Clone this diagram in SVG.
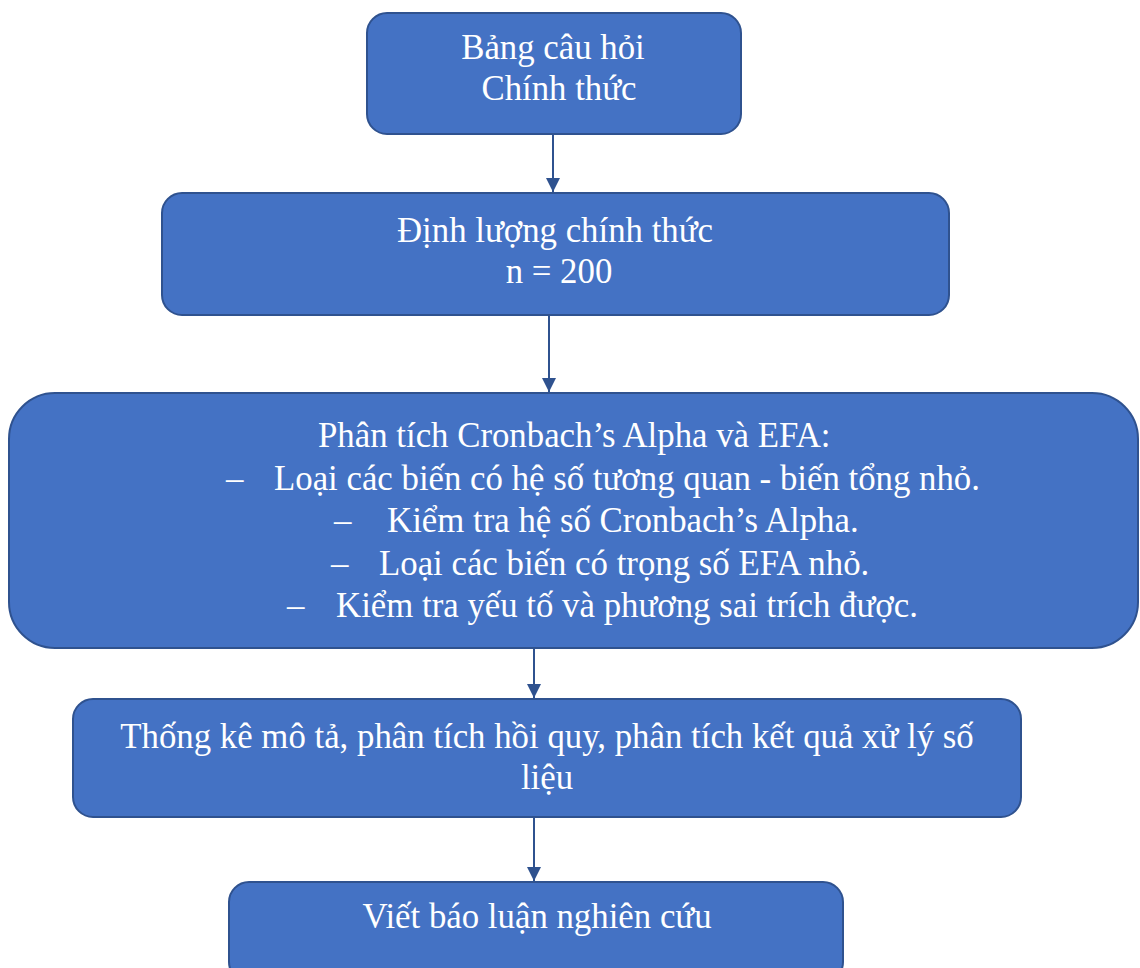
<svg xmlns="http://www.w3.org/2000/svg" width="1140" height="968" viewBox="0 0 1140 968">
<style>
.box{fill:#4472C4;stroke:#2F528F;stroke-width:2}
.t{font-family:"Liberation Serif","Times New Roman",serif;font-size:34.8px;fill:#fff}
.c{text-anchor:middle}
.conn{stroke:#2F528F;stroke-width:2;fill:none}
</style>
<defs>
<marker id="ah" markerWidth="14" markerHeight="14" refX="14" refY="7" orient="auto" markerUnits="userSpaceOnUse" viewBox="0 0 14 14">
<path d="M0,0 L14,7 L0,14 Z" fill="#2F528F"/>
</marker>
</defs>
<g id="connectors">
<line class="conn" x1="553" y1="134" x2="553" y2="192" marker-end="url(#ah)"/>
<line class="conn" x1="549" y1="315" x2="549" y2="392" marker-end="url(#ah)"/>
<line class="conn" x1="534" y1="648" x2="534" y2="698" marker-end="url(#ah)"/>
<line class="conn" x1="534" y1="817" x2="534" y2="881" marker-end="url(#ah)"/>
</g>
<g id="n1">
<rect class="box" x="367" y="13" width="374" height="121" rx="20"/>
<text class="t c" x="553" y="59">Bảng câu hỏi</text>
<text class="t c" x="559" y="100">Chính thức</text>
</g>
<g id="n2">
<rect class="box" x="162" y="193" width="787" height="122" rx="20"/>
<text class="t c" x="555" y="242">Định lượng chính thức</text>
<text class="t c" x="559" y="283">n = 200</text>
</g>
<g id="n3">
<rect class="box" x="9" y="393" width="1129" height="255" rx="46"/>
<text class="t" x="318" y="447">Phân tích Cronbach’s Alpha và EFA:</text>
<text class="t" x="226" y="490">–</text><text class="t" x="274" y="490">Loại các biến có hệ số tương quan - biến tổng nhỏ.</text>
<text class="t" x="334" y="532">–</text><text class="t" x="387" y="532">Kiểm tra hệ số Cronbach’s Alpha.</text>
<text class="t" x="331" y="575">–</text><text class="t" x="379" y="575">Loại các biến có trọng số EFA nhỏ.</text>
<text class="t" x="287" y="617">–</text><text class="t" x="336" y="617">Kiểm tra yếu tố và phương sai trích được.</text>
</g>
<g id="n4">
<rect class="box" x="73" y="699" width="948" height="118" rx="20"/>
<text class="t c" x="547" y="748">Thống kê mô tả, phân tích hồi quy, phân tích kết quả xử lý số</text>
<text class="t c" x="547" y="789">liệu</text>
</g>
<g id="n5">
<rect class="box" x="229" y="882" width="614" height="100" rx="20"/>
<text class="t c" x="537" y="928">Viết báo luận nghiên cứu</text>
</g>
</svg>
